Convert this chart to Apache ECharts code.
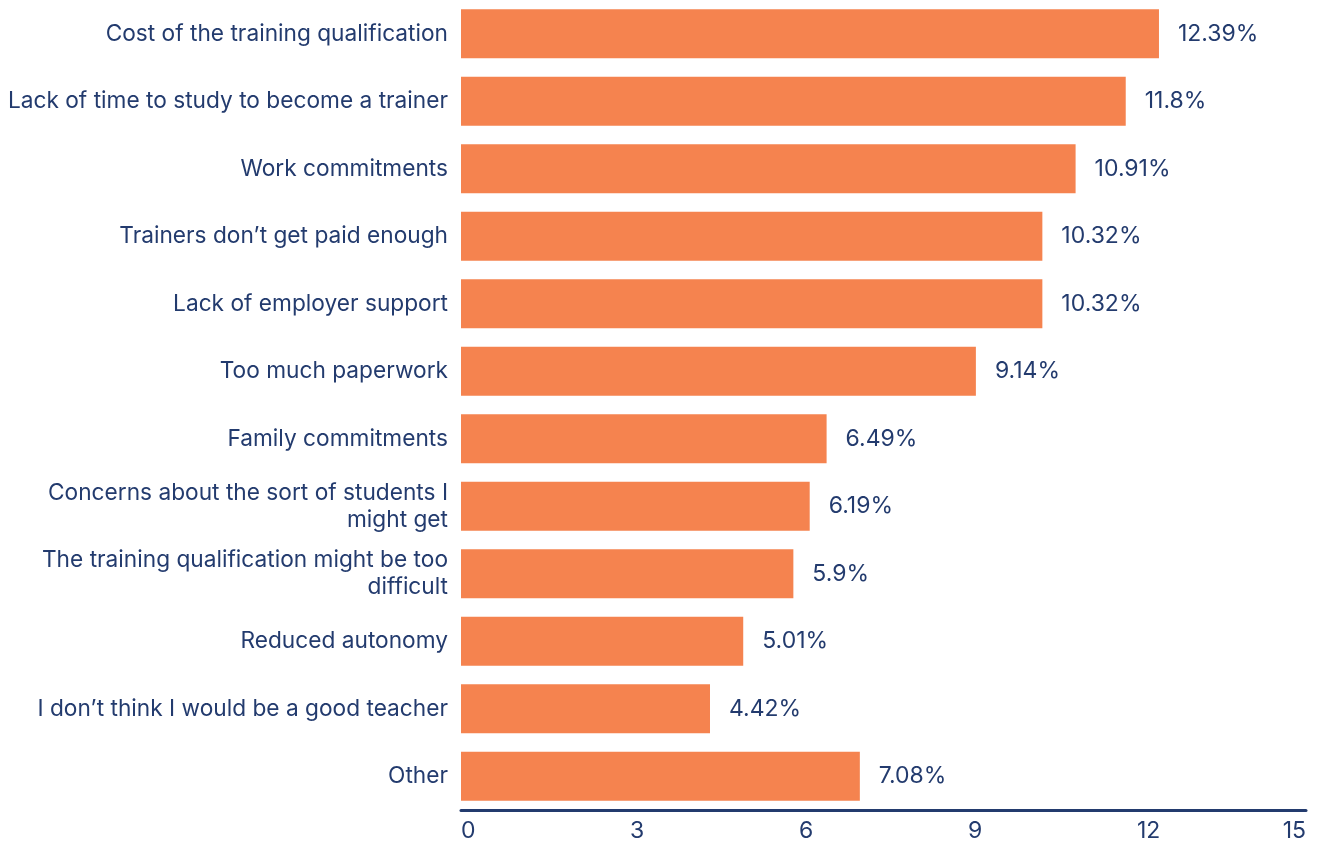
<!DOCTYPE html>
<html>
<head>
<meta charset="utf-8">
<script src="https://cdn.jsdelivr.net/npm/echarts@6/dist/echarts.min.js"></script>
<style>
  html, body { margin: 0; padding: 0; background: #ffffff; }
  #chart { width: 1325px; height: 843px; }
</style>
</head>
<body>
<div id="chart"></div>
<script>
// Barriers to becoming a trainer, share of responses (%)
const categories = [
  'Cost of the training qualification',
  'Lack of time to study to become a trainer',
  'Work commitments',
  'Trainers don\u2019t get paid enough',
  'Lack of employer support',
  'Too much paperwork',
  'Family commitments',
  'Concerns about the sort of students I\nmight get',
  'The training qualification might be too\ndifficult',
  'Reduced autonomy',
  'I don\u2019t think I would be a good teacher',
  'Other'
];
const shares = [12.39, 11.8, 10.91, 10.32, 10.32, 9.14, 6.49, 6.19, 5.9, 5.01, 4.42, 7.08];
const xTicks = [0, 3, 6, 9, 12, 15];

const navy = '#233b6e';
const orange = '#f5834f';
const font = 'Inter, "Noto Sans", sans-serif';

const chart = echarts.init(document.getElementById('chart'), null, { renderer: 'canvas' });
chart.setOption({
  animation: false,
  grid: { left: 461, right: 19, top: 0, bottom: 33, containLabel: false },
  xAxis: {
    type: 'value',
    min: xTicks[0],
    max: xTicks[xTicks.length - 1],
    interval: xTicks[1] - xTicks[0],
    splitLine: { show: false },
    axisTick: { show: false },
    axisLine: { show: true, lineStyle: { color: navy, width: 3 } },
    axisLabel: {
      color: navy, fontFamily: font, fontSize: 23, margin: 10,
      align: 'left', alignMinLabel: 'left', alignMaxLabel: 'right'
    }
  },
  yAxis: {
    type: 'category',
    inverse: true,
    data: categories,
    axisLine: { show: false },
    axisTick: { show: false },
    axisLabel: {
      color: navy,
      fontFamily: font,
      fontSize: 22.7,
      margin: 13,
      lineHeight: 27,
      align: 'right'
    }
  },
  series: [{
    type: 'bar',
    data: shares,
    barWidth: 49,
    itemStyle: { color: orange },
    label: {
      show: true,
      position: 'right',
      distance: 19,
      color: navy,
      fontFamily: font,
      fontSize: 23,
      formatter: p => p.value + '%'
    }
  }]
});
</script>
</body>
</html>
